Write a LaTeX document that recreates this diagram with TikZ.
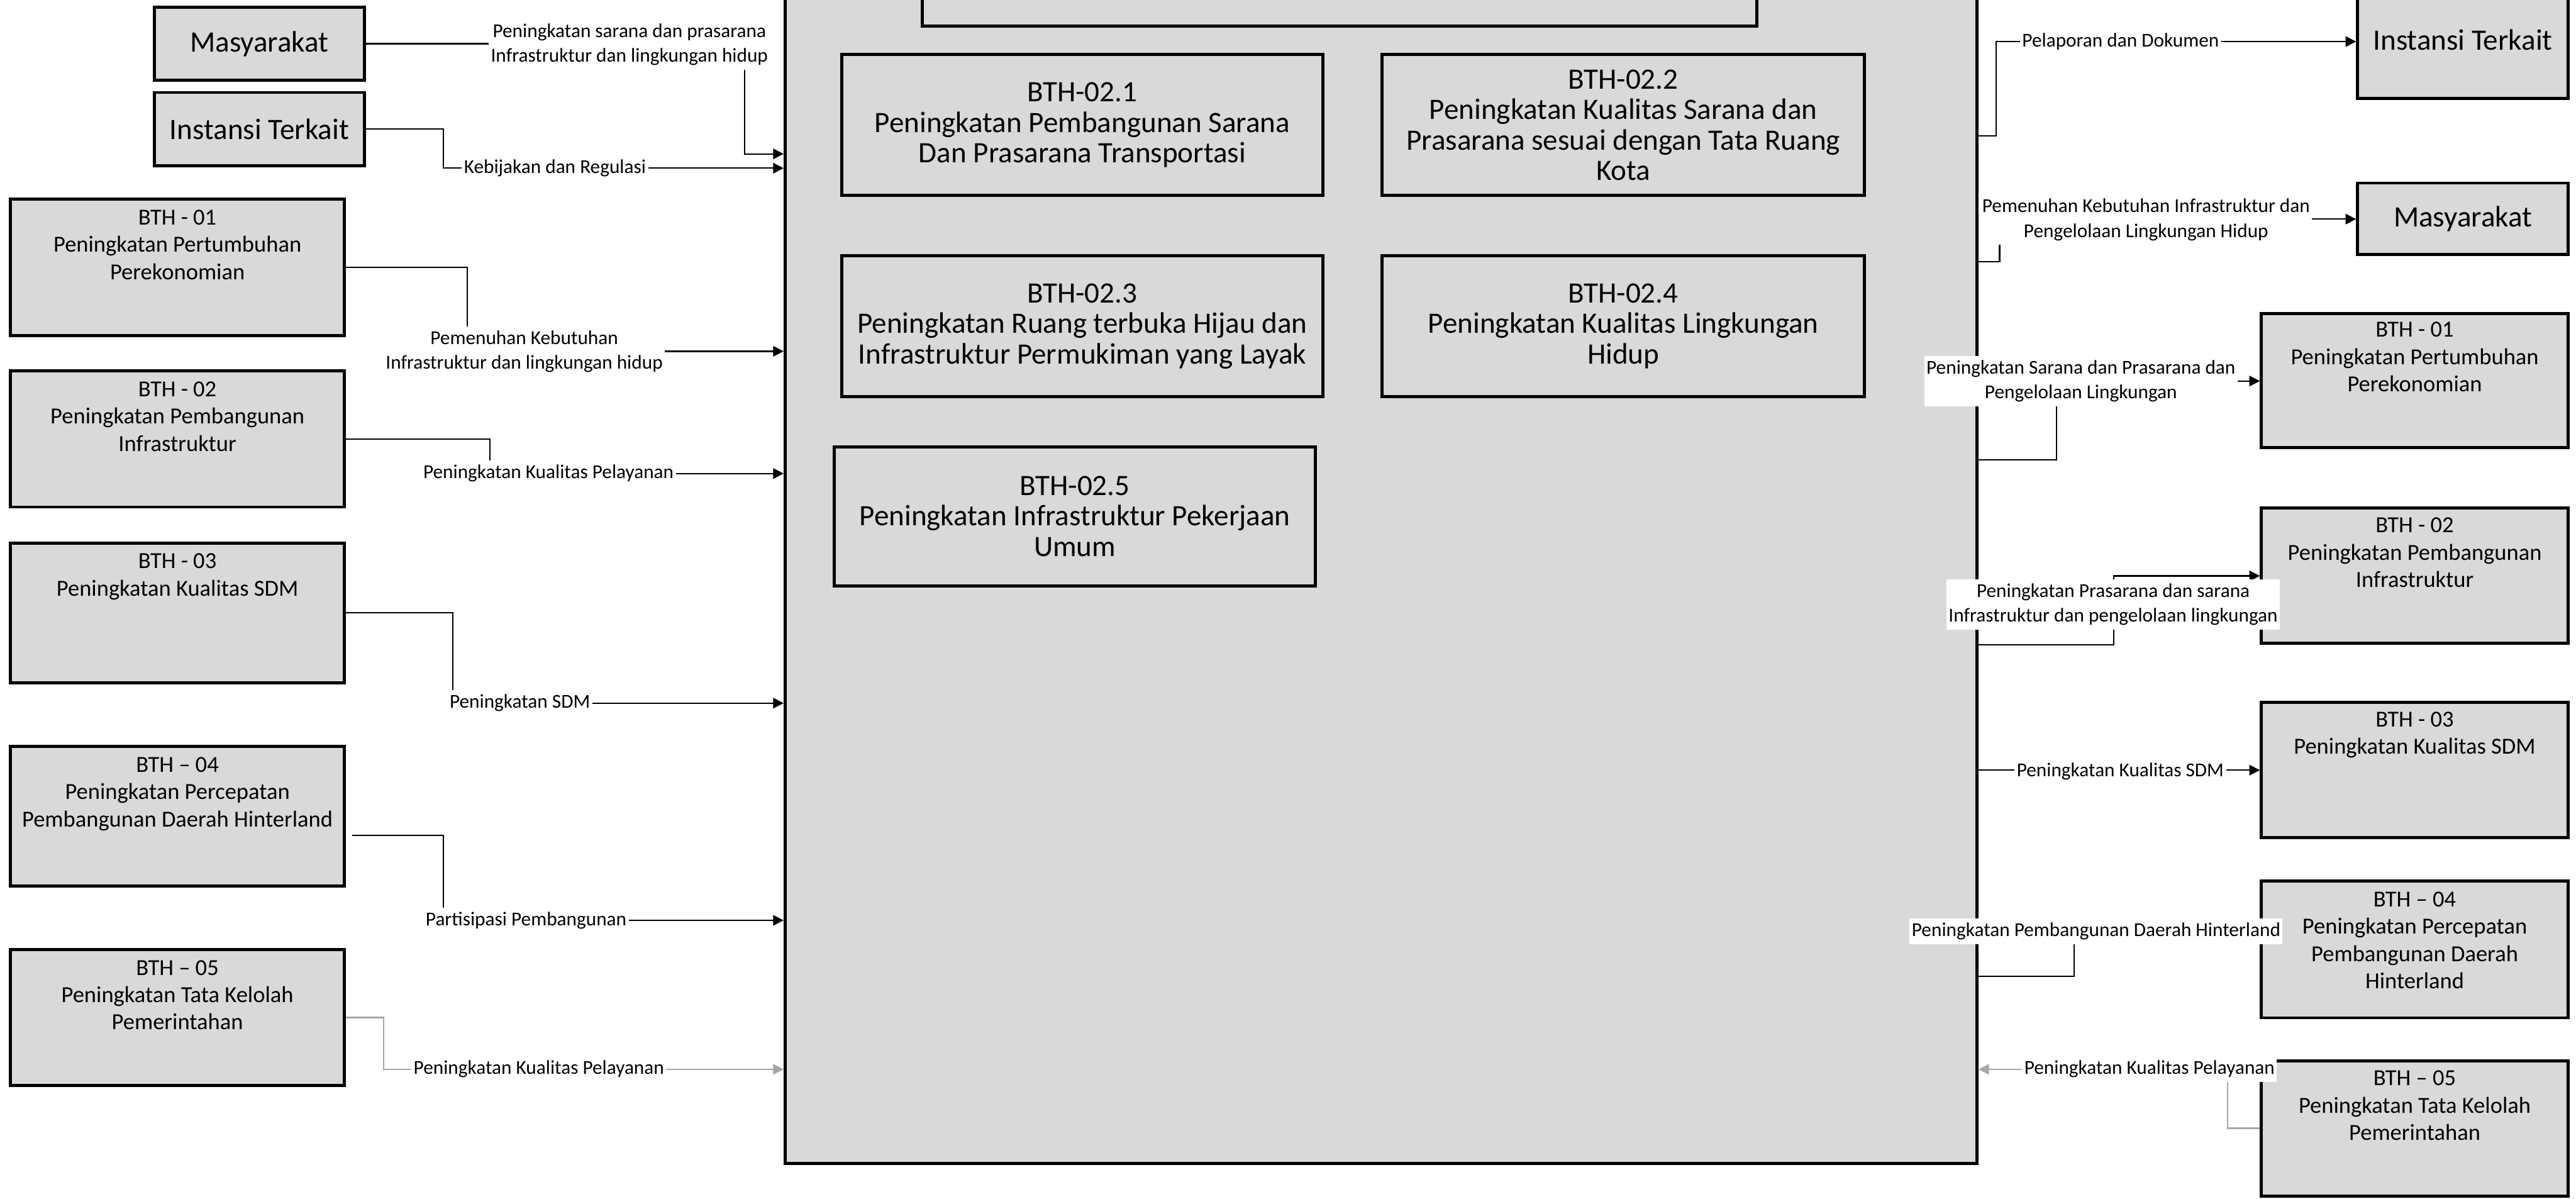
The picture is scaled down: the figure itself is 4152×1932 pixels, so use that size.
\documentclass[tikz,border=0pt]{standalone}
\usepackage{fontspec}
\setmainfont{Carlito}
\usetikzlibrary{arrows.meta}
\definecolor{boxfill}{HTML}{D9D9D9}
\definecolor{greyline}{HTML}{A6A6A6}
\newcommand\fbig{\fontsize{13.57pt}{13.94pt}\selectfont}
\newcommand\fmid{\fontsize{10.53pt}{12.5pt}\selectfont}
\newcommand\fsml{\fontsize{9.02pt}{11.38pt}\selectfont}

\begin{document}
\begin{tikzpicture}[x=0.01cm,y=-0.01cm,
  box/.style={draw=black, line width=1.4pt, fill=boxfill, inner sep=0pt, align=center},
  bigtext/.style={font=\fbig},
  toptext/.style={anchor=north, align=center, font=\fmid, inner sep=0pt},
  conn/.style={draw=black, line width=0.65pt, -{Triangle[length=4.8pt,width=4.8pt]}},
  greyconn/.style={conn, draw=greyline},
  lbl/.style={fill=white, inner xsep=1pt, inner ysep=2pt, align=center, font=\fsml},
]
\clip (0,0) rectangle (4152,1932);
\fill[white] (0,0) rectangle (4152,1932);

% central process box and its sub-activities
\node[box, minimum width=19.20cm, minimum height=19.24cm] (B) at (2226,912) {};
\node[box, minimum width=13.44cm, minimum height=0.92cm] (T) at (2159,-4) {};
\node[box, bigtext, minimum width=7.75cm, minimum height=2.27cm] (C1) at (1744.5,201.5)
  {BTH-02.1\\Peningkatan Pembangunan Sarana\\Dan Prasarana Transportasi};
\node[box, bigtext, minimum width=7.77cm, minimum height=2.27cm] (C2) at (2616.5,201.5)
  {BTH-02.2\\Peningkatan Kualitas Sarana dan\\Prasarana sesuai dengan Tata Ruang\\Kota};
\node[box, bigtext, minimum width=7.75cm, minimum height=2.27cm] (C3) at (1744.5,525.5)
  {BTH-02.3\\Peningkatan Ruang terbuka Hijau dan\\Infrastruktur Permukiman yang Layak};
\node[box, bigtext, minimum width=7.77cm, minimum height=2.27cm] (C4) at (2616.5,525.5)
  {BTH-02.4\\Peningkatan Kualitas Lingkungan\\Hidup};
\node[box, bigtext, minimum width=7.75cm, minimum height=2.24cm] (C5) at (1732.5,832)
  {BTH-02.5\\Peningkatan Infrastruktur Pekerjaan\\Umum};

% inputs on the left
\node[box, bigtext, minimum width=3.38cm, minimum height=1.17cm] (LM) at (418,70.5) {Masyarakat};
\node[box, bigtext, minimum width=3.38cm, minimum height=1.18cm] (LI) at (418,208) {Instansi Terkait};
\node[box, minimum width=5.38cm, minimum height=2.20cm] (L1) at (286,431) {};
\node[box, minimum width=5.38cm, minimum height=2.19cm] (L2) at (286,707.5) {};
\node[box, minimum width=5.38cm, minimum height=2.25cm] (L3) at (286,987.5) {};
\node[box, minimum width=5.38cm, minimum height=2.25cm] (L4) at (286,1315.5) {};
\node[box, minimum width=5.38cm, minimum height=2.19cm] (L5) at (286,1639.5) {};
\node[toptext] (L1t) at ([yshift=-0.19cm]L1.north) {BTH - 01\\Peningkatan Pertumbuhan\\Perekonomian};
\node[toptext] (L2t) at ([yshift=-0.19cm]L2.north) {BTH - 02\\Peningkatan Pembangunan\\Infrastruktur};
\node[toptext] (L3t) at ([yshift=-0.19cm]L3.north) {BTH - 03\\Peningkatan Kualitas SDM};
\node[toptext] (L4t) at ([yshift=-0.19cm]L4.north) {BTH – 04\\Peningkatan Percepatan\\Pembangunan Daerah Hinterland};
\node[toptext] (L5t) at ([yshift=-0.19cm]L5.north) {BTH – 05\\Peningkatan Tata Kelolah\\Pemerintahan};

% outputs on the right
\node[box, bigtext, minimum width=3.39cm, minimum height=1.89cm] (RI) at (3969.5,64.5) {Instansi Terkait};
\node[box, bigtext, minimum width=3.39cm, minimum height=1.15cm] (RM) at (3969.5,352.5) {Masyarakat};
\node[box, minimum width=4.94cm, minimum height=2.16cm] (R1) at (3892,613) {};
\node[box, minimum width=4.94cm, minimum height=2.17cm] (R2) at (3892,927.5) {};
\node[box, minimum width=4.94cm, minimum height=2.18cm] (R3) at (3892,1241) {};
\node[box, minimum width=4.94cm, minimum height=2.20cm] (R4) at (3892,1530) {};
\node[box, minimum width=4.94cm, minimum height=2.17cm] (R5) at (3892,1818.5) {};
\node[toptext] (R1t) at ([yshift=-0.16cm]R1.north) {BTH - 01\\Peningkatan Pertumbuhan\\Perekonomian};
\node[toptext] (R2t) at ([yshift=-0.17cm]R2.north) {BTH - 02\\Peningkatan Pembangunan\\Infrastruktur};
\node[toptext] (R3t) at ([yshift=-0.17cm]R3.north) {BTH - 03\\Peningkatan Kualitas SDM};
\node[toptext] (R4t) at ([yshift=-0.19cm]R4.north) {BTH – 04\\Peningkatan Percepatan\\Pembangunan Daerah\\Hinterland};
\node[toptext] (R5t) at ([yshift=-0.17cm]R5.north) {BTH – 05\\Peningkatan Tata Kelolah\\Pemerintahan};

% bend points of the connectors
\coordinate (k1) at (1200,248);
\coordinate (k2) at (715,271);
\coordinate (k3) at (753,566);
\coordinate (k4) at (790,763);
\coordinate (k5) at (730,1133);
\coordinate (s6) at (568,1346);
\coordinate (k6) at (715,1483);
\coordinate (k7) at (618,1723);
\coordinate (r1a) at (3217,219);  \coordinate (r1b) at (3217,67);
\coordinate (r2a) at (3223,422);  \coordinate (r2b) at (3223,353);
\coordinate (r3a) at (3315,741);  \coordinate (r3b) at (3315,614);
\coordinate (r4a) at (3407,1039); \coordinate (r4b) at (3407,928);
\coordinate (r6a) at (3343,1573); \coordinate (r6b) at (3343,1501);
\coordinate (r7a) at (3590,1818); \coordinate (r7b) at (3590,1723);

% connectors into the central box
\draw[conn] (LM.east) -| (k1) -- (k1 -| B.west);
\draw[conn] (LI.east) -| (k2) -- (k2 -| B.west);
\draw[conn] (L1.east) -| (k3) -- (k3 -| B.west);
\draw[conn] (L2.east) -| (k4) -- (k4 -| B.west);
\draw[conn] (L3.east) -| (k5) -- (k5 -| B.west);
\draw[conn] (s6) -| (k6) -- (k6 -| B.west);
\draw[greyconn] (L5.east) -| (k7) -- (k7 -| B.west);

% connectors out of the central box
\draw[conn] (r1a -| B.east) -- (r1a) -- (r1b) -- (r1b -| RI.west);
\draw[conn] (r2a -| B.east) -- (r2a) -- (r2b) -- (r2b -| RM.west);
\draw[conn] (r3a -| B.east) -- (r3a) -- (r3b) -- (r3b -| R1.west);
\draw[conn] (r4a -| B.east) -- (r4a) -- (r4b) -- (r4b -| R2.west);
\draw[conn] (R3.west -| B.east) -- (R3.west);
\draw[conn] (r6a -| B.east) -- (r6a) -- (r6b) -- (r6b -| R4.west);
\draw[greyconn] (r7a -| R5.west) -- (r7a) -- (r7b) -- (r7b -| B.east);

% connector labels
\node[lbl] (t1) at (1014.5,72) {Peningkatan sarana dan prasarana\\Infrastruktur dan lingkungan hidup};
\node[lbl] (t2) at (894.5,271) {Kebijakan dan Regulasi};
\node[lbl] (t3) at (845,566.5) {Pemenuhan Kebutuhan\\Infrastruktur dan lingkungan hidup};
\node[lbl] (t4) at (884,763) {Peningkatan Kualitas Pelayanan};
\node[lbl] (t5) at (838,1133) {Peningkatan SDM};
\node[lbl] (t6) at (848,1483) {Partisipasi Pembangunan};
\node[lbl] (t7) at (868.5,1723) {Peningkatan Kualitas Pelayanan};
\node[lbl] (u1) at (3418,67) {Pelaporan dan Dokumen};
\node[lbl] (u2) at (3459,354) {Pemenuhan Kebutuhan Infrastruktur dan\\Pengelolaan Lingkungan Hidup};
\node[lbl] (u3) at (3354,614) {Peningkatan Sarana dan Prasarana dan\\Pengelolaan Lingkungan};
\node[lbl] (u4) at (3406,974) {Peningkatan Prasarana dan sarana\\Infrastruktur dan pengelolaan lingkungan};
\node[lbl] (u5) at (3417.5,1243) {Peningkatan Kualitas SDM};
\node[lbl] (u6) at (3378.5,1501) {Peningkatan Pembangunan Daerah Hinterland};
\node[lbl] (u7) at (3464.5,1723) {Peningkatan Kualitas Pelayanan};
\end{tikzpicture}
\end{document}
